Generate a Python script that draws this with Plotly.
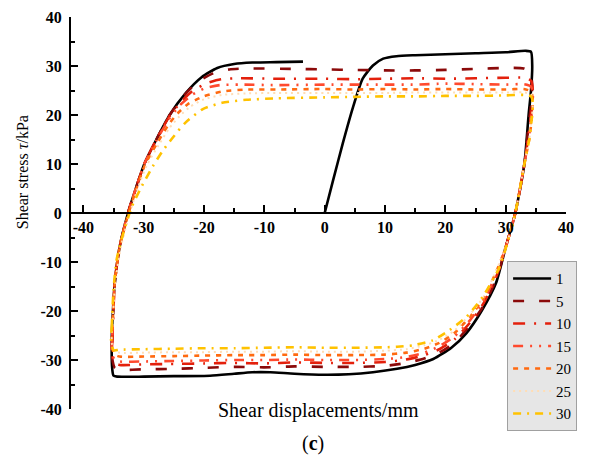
import plotly.graph_objects as go

# ---------------- data ----------------
cycles = ["1", "5", "10", "15", "20", "25", "30"]

x_c1 = [0, 1.4, 3.0, 4.7, 6.3, 8.0, 9.7, 11.9, 15, 20, 25, 30, 33.3, 34.2, 34.4, 34.2, 33.8, 33.1,
        31.6, 30.0, 28.4, 26.0, 23.5, 21.0, 18.0, 15.0, 12.0, 8.0, 4.0, 0, -5, -9, -12, -15, -19,
        -25, -30, -34.4, -35.0, -35.2, -35.3, -35.1, -34.8, -34.0, -32.6, -31.3, -29.9, -27.9,
        -25.7, -23.0, -20.4, -17.8, -15.0, -12, -8, -3.6]
y_c1 = [0, 6.7, 14.2, 21.6, 27.4, 30.1, 31.5, 32.0, 32.2, 32.4, 32.6, 32.8, 33.1, 32.9, 30.0, 25,
        20, 10, 0, -7, -14.3, -20, -24.5, -27.5, -29.8, -31.0, -31.8, -32.5, -32.9, -33.0, -32.8,
        -32.5, -32.5, -32.8, -33.2, -33.3, -33.4, -33.4, -33.2, -32.0, -26, -20, -14.3, -7, 0, 5,
        10, 15, 20, 24.5, 27.7, 29.6, 30.4, 30.7, 30.8, 30.9]

x_c5 = [-35.3, -35.2, -34.8, -34.0, -32.6, -31.3, -29.9, -27.9, -25.7, -23.3, -21.0, -18.5, -15.8,
        -12, -5, 0, 5, 10, 15, 20, 25, 30, 33.0, 34.1, 34.4, 34.2, 33.8, 33.1, 31.6, 30.0, 28.6,
        26.3, 24.0, 21.5, 19.0, 16.5, 13.5, 10, 5, 0, -5, -10, -15, -20, -25, -30, -34.0, -34.8,
        -35.3]
y_c5 = [-29.0, -26, -14.3, -7, 0, 5, 10, 15, 20, 24.0, 26.8, 28.5, 29.3, 29.5, 29.4, 29.3,
        29.2, 29.1, 29.1, 29.2, 29.4, 29.6, 29.5, 28.7, 26, 22, 18, 10, 0, -7, -13, -19, -23,
        -26.5, -28.5, -29.7, -30.6, -31.2, -31.4, -31.4, -31.3, -31.5, -31.4, -31.6, -31.8, -31.9,
        -32.0, -31.6, -29.0]

x_c10 = [-35.3, -35.2, -34.8, -34.0, -32.6, -31.3, -29.9, -27.9, -25.8, -23.8, -21.8, -19.5,
         -17.2, -14, -8, 0, 5, 10, 15, 20, 25, 30, 33.0, 34.2, 34.5, 34.3, 33.9, 33.1, 31.6, 30.0,
         28.6, 26.3, 24.0, 21.5, 19.0, 16.5, 13.5, 10, 5, 0, -5, -10, -15, -20, -25, -30, -34.0,
         -34.9, -35.3]
y_c10 = [-28.5, -26, -14.3, -7, 0, 5, 10, 15, 19.6, 22.7, 25.0, 26.5, 27.3, 27.5, 27.4, 27.4,
         27.3, 27.4, 27.5, 27.4, 27.5, 27.6, 27.6, 27.0, 25, 21, 17, 10, 0, -7, -12.5, -18.5,
         -22.5, -25.8, -27.8, -29.0, -29.9, -30.4, -30.6, -30.6, -30.5, -30.7, -30.6, -30.7,
         -30.8, -30.9, -31.0, -30.5, -28.5]

x_c15 = [-35.3, -35.2, -34.8, -34.0, -32.6, -31.3, -29.9, -27.9, -25.9, -24.0, -22.0, -19.8,
         -17.4, -14, -8, 0, 5, 10, 15, 20, 25, 30, 33.0, 34.2, 34.5, 34.3, 33.9, 33.1, 31.6, 30.0,
         28.6, 26.3, 24.0, 21.5, 19.0, 16.5, 13.5, 10, 5, 0, -5, -10, -15, -20, -25, -30, -34.0,
         -34.9, -35.3]
y_c15 = [-28.0, -25, -14.3, -7, 0, 5, 10, 14.8, 19.0, 22.0, 24.1, 25.5, 26.1, 26.2, 26.1, 26.2,
         26.2, 26.2, 26.2, 26.4, 26.3, 26.2, 26.3, 25.8, 24, 20, 16, 10, 0, -7, -12, -18, -22,
         -25.2, -27.2, -28.5, -29.4, -29.8, -30.0, -30.0, -29.9, -30.0, -30.0, -30.1, -30.2,
         -30.3, -30.3, -29.8, -28.0]

x_c20 = [-35.3, -35.2, -34.8, -34.0, -32.5, -31.2, -29.8, -27.8, -25.9, -24.4, -22.7, -20.1,
         -17.0, -13, -8, 0, 5, 10, 15, 20, 25, 30, 33.0, 34.2, 34.5, 34.3, 33.9, 33.1, 31.6, 30.0,
         28.6, 26.3, 24.0, 21.5, 19.0, 16.5, 13.5, 10, 5, 0, -5, -10, -15, -20, -25, -30, -34.0,
         -34.9, -35.3]
y_c20 = [-27.0, -24, -14.3, -7, 0, 5, 9.8, 14.2, 18.0, 20.3, 22.2, 23.8, 24.8, 25.2, 25.2, 25.3,
         25.2, 25.3, 25.2, 25.3, 25.2, 25.2, 25.3, 24.8, 23, 19, 15, 10, 0, -7, -11.5, -17.5,
         -21.3, -24.5, -26.5, -27.7, -28.5, -28.9, -29.0, -29.0, -28.9, -29.0, -29.0, -29.1,
         -29.2, -29.3, -29.3, -28.8, -27.0]

x_c25 = [-35.3, -35.2, -34.7, -33.8, -32.3, -31.0, -29.5, -27.5, -25.7, -24.1, -22.4, -20.0,
         -17.0, -13, -8, 0, 5, 10, 15, 20, 25, 30, 33.0, 34.2, 34.5, 34.3, 33.9, 33.1, 31.6, 30.0,
         28.6, 26.3, 24.0, 21.5, 19.0, 16.5, 13.5, 10, 5, 0, -5, -10, -15, -20, -25, -30, -34.0,
         -34.9, -35.3]
y_c25 = [-26.5, -23, -14.3, -7, 0, 5, 9.7, 13.9, 17.4, 19.7, 21.6, 23.2, 24.1, 24.4, 24.5, 24.5,
         24.5, 24.5, 24.6, 24.6, 24.6, 24.6, 24.6, 24.3, 22.5, 19, 15, 10, 0, -7, -11.3, -17.2,
         -20.8, -24.0, -25.9, -27.0, -27.8, -28.1, -28.3, -28.3, -28.2, -28.3, -28.3, -28.4,
         -28.4, -28.5, -28.5, -28.0, -26.5]

x_c30 = [-35.4, -35.3, -35.0, -34.5, -33.4, -32.0, -30.3, -28.5, -26.9, -25.3, -23.2, -20.2,
         -17.0, -13, -8, 0, 5, 10, 15, 20, 25, 30, 33.0, 34.2, 34.5, 34.3, 33.9, 33.1, 31.6, 30.3,
         29.0, 26.2, 23.5, 20.7, 17.9, 14.6, 12.0, 10, 5, 0, -5, -10, -15, -20, -25, -30, -34.0,
         -35.0, -35.4]
y_c30 = [-26.0, -23.2, -15.7, -9.6, -4.2, 1.2, 5.5, 9.5, 12.6, 15.2, 18.3, 21.2, 22.5, 23.1, 23.4,
         23.6, 23.7, 23.8, 23.8, 23.9, 23.9, 24.0, 24.1, 23.8, 22.5, 19, 15, 10, 0, -6, -11, -17.1,
         -21.2, -23.9, -26.0, -27.0, -27.3, -27.4, -27.5, -27.5, -27.4, -27.5, -27.6, -27.6, -27.7,
         -27.8, -27.9, -28.0, -26.0]

x_ticks = [-40, -30, -20, -10, 0, 10, 20, 30, 40]
x_tick_labels = ["-40", "-30", "-20", "-10", "0", "10", "20", "30", "40"]
y_ticks = [-40, -30, -20, -10, 0, 10, 20, 30, 40]
y_tick_labels = ["-40", "-30", "-20", "-10", "0", "10", "20", "30", "40"]

# ---------------- styles ----------------
xs = [x_c1, x_c5, x_c10, x_c15, x_c20, x_c25, x_c30]
ys = [y_c1, y_c5, y_c10, y_c15, y_c20, y_c25, y_c30]
colors = ["#000000", "#8B0A0A", "#E3200C", "#FF4A2E", "#FF6A10", "#FFDDB5", "#FFC200"]
dashes = ["solid", "11px,15px", "12px,9px,2px,9px", "10px,7px,2px,7px,2px,7px",
          "5px,6px", "2px,4px", "8px,6px,2px,6px"]
widths = [2.6, 2.6, 2.6, 2.6, 2.6, 2.0, 2.6]

SERIF = "Liberation Serif"

fig = go.Figure()
for name, xv, yv, c, d, w in zip(cycles, xs, ys, colors, dashes, widths):
    fig.add_trace(go.Scatter(
        x=xv, y=yv, name=name, mode="lines",
        line=dict(color=c, dash=d, width=w, shape="spline", smoothing=0.6),
    ))

axis_common = dict(
    showgrid=False, zeroline=False, showline=True, linecolor="black", linewidth=2,
    ticks="inside", ticklen=7, tickwidth=2, tickcolor="black",
    tickfont=dict(family=SERIF, size=16, color="black", weight="bold"),
)

fig.update_layout(
    width=593, height=453,
    margin=dict(l=63, r=35, t=8.5, b=52, autoexpand=False),
    paper_bgcolor="white", plot_bgcolor="white",
    showlegend=True,
    xaxis=dict(
        range=[-42.05, 40], anchor="free", position=0.5,
        tickvals=x_ticks, ticktext=x_tick_labels,
        minor=dict(dtick=5, tick0=0, ticks="inside", ticklen=4, tickwidth=1.5, tickcolor="black"),
        **axis_common,
    ),
    yaxis=dict(
        range=[-40, 40],
        tickvals=y_ticks, ticktext=y_tick_labels, ticklabelstandoff=4,
        minor=dict(dtick=5, tick0=0, ticks="inside", ticklen=4, tickwidth=1.5, tickcolor="black"),
        **axis_common,
    ),
    legend=dict(
        x=0.881, y=0.377, xanchor="left", yanchor="top",
        bgcolor="#E6E6E6", bordercolor="#A0A0A0", borderwidth=1,
        font=dict(family=SERIF, size=15, color="black"),
        itemwidth=38, tracegroupgap=0,
    ),
    annotations=[
        dict(text="Shear stress <i>τ</i>/kPa", xref="paper", yref="paper",
             x=-0.099, y=0.604, textangle=-90, showarrow=False,
             xanchor="center", yanchor="middle",
             font=dict(family=SERIF, size=16, color="black")),
        dict(text="Shear displacements/mm", xref="paper", yref="paper",
             x=0.499, y=-0.003, showarrow=False, xanchor="center", yanchor="middle",
             font=dict(family=SERIF, size=20, color="black")),
        dict(text="(<b>c</b>)", xref="paper", yref="paper",
             x=0.489, y=-0.087, showarrow=False, xanchor="center", yanchor="middle",
             font=dict(family=SERIF, size=20, color="black")),
    ],
)

fig.write_html("out.html")
